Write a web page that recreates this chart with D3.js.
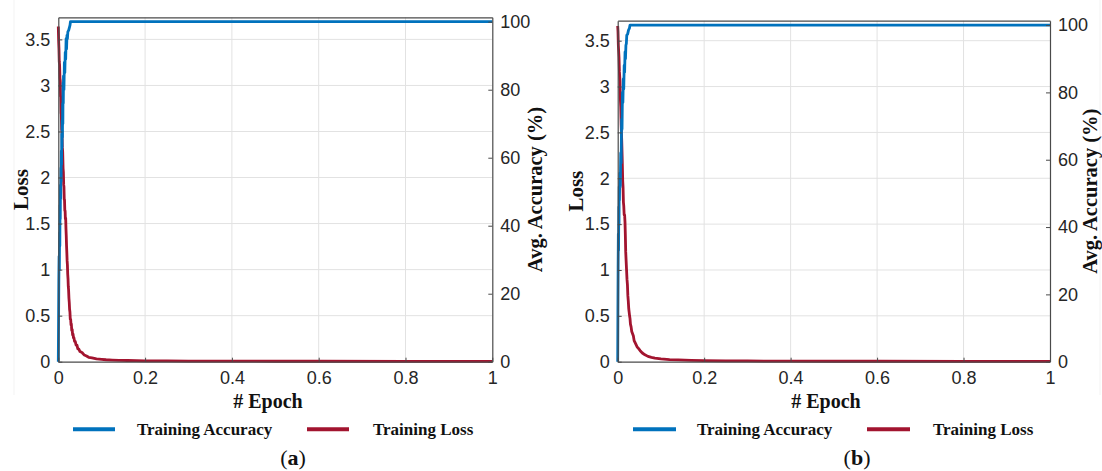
<!DOCTYPE html>
<html>
<head>
<meta charset="utf-8">
<script src="https://cdn.jsdelivr.net/npm/d3@7"></script>
<style>
html,body{margin:0;padding:0;background:#fff;}
svg{display:block;}
</style>
</head>
<body>
<svg id="chart" width="1102" height="471"></svg>
<script>
// ---------------- data ----------------
const epochTicks = [0, 0.2, 0.4, 0.6, 0.8, 1];
const epochTickLabels = ["0", "0.2", "0.4", "0.6", "0.8", "1"];
const lossTicks = [0, 0.5, 1, 1.5, 2, 2.5, 3, 3.5];
const lossTickLabels = ["0", "0.5", "1", "1.5", "2", "2.5", "3", "3.5"];
const accTicks = [0, 20, 40, 60, 80, 100];
const accTickLabels = ["0", "20", "40", "60", "80", "100"];
const seriesNames = ["Training Accuracy", "Training Loss"];
const panelLabels = ["a", "b"];
const xTitle = "# Epoch";
const yLeftTitle = "Loss";
const yRightTitle = "Avg. Accuracy (%)";

// panel (a)  [epoch, accuracy %]
const accA = [[0,0],[0.0006,12],[0.0012,24],[0.0018,31],[0.0024,27],[0.003,38],[0.0035,34],[0.004,46],[0.0045,42],[0.005,52],[0.0055,48],[0.006,57],[0.0065,53],[0.007,62],[0.0075,58],[0.008,67],[0.0085,63],[0.009,71],[0.0095,66],[0.010,76],[0.0105,70],[0.011,82],[0.0115,76],[0.012,84],[0.013,80],[0.014,88],[0.015,85],[0.016,91],[0.017,89],[0.018,95],[0.019,92],[0.020,96],[0.021,95],[0.022,97],[0.024,97.5],[0.026,98.5],[0.027,99],[0.028,100],[1,100]];
// panel (a)  [epoch, loss]
const lossA = [[0,3.64],[0.0008,3.48],[0.0015,3.4],[0.0022,3.26],[0.003,3.22],[0.0038,3.08],[0.0046,3.05],[0.0052,2.88],[0.0058,2.88],[0.0064,2.7],[0.0069,2.69],[0.0077,2.52],[0.0085,2.5],[0.0093,2.33],[0.0101,2.28],[0.011,2.1],[0.0117,2.06],[0.0124,1.92],[0.013,1.9],[0.0137,1.76],[0.0143,1.76],[0.015,1.64],[0.0157,1.64],[0.0163,1.55],[0.017,1.56],[0.0177,1.44],[0.0183,1.37],[0.019,1.26],[0.0197,1.18],[0.0203,1.1],[0.021,1.05],[0.0217,0.95],[0.0224,0.9],[0.023,0.82],[0.0237,0.78],[0.0245,0.69],[0.0253,0.64],[0.026,0.57],[0.0268,0.54],[0.0276,0.46],[0.0285,0.46],[0.0293,0.4],[0.030,0.41],[0.031,0.34],[0.032,0.35],[0.033,0.29],[0.034,0.3],[0.035,0.26],[0.036,0.26],[0.0375,0.22],[0.039,0.22],[0.041,0.18],[0.043,0.18],[0.045,0.14],[0.047,0.14],[0.05,0.11],[0.0546,0.1],[0.06,0.072],[0.065,0.062],[0.07,0.048],[0.0776,0.042],[0.088,0.031],[0.1,0.026],[0.11,0.021],[0.124,0.018],[0.14,0.015],[0.16,0.013],[0.18,0.011],[0.2,0.01],[0.25,0.008],[0.3,0.007],[0.4,0.006],[0.5,0.005],[0.6,0.005],[0.8,0.004],[1,0.004]];

// panel (b)  [epoch, accuracy %]
const accB = [[0,0],[0.0005,15],[0.001,28],[0.0015,38],[0.002,33],[0.0025,46],[0.003,41],[0.0035,52],[0.004,48],[0.005,56],[0.006,52],[0.007,62],[0.008,59],[0.009,72],[0.010,69],[0.011,80],[0.012,77],[0.013,84],[0.014,81],[0.015,88],[0.016,86],[0.017,92],[0.018,90],[0.019,94],[0.020,94.5],[0.021,97],[0.023,97.3],[0.025,98.5],[0.027,99],[0.0285,100],[1,100]];
// panel (b)  [epoch, loss]
const lossB = [[0,3.66],[0.0007,3.6],[0.0015,3.45],[0.003,3.32],[0.004,3.16],[0.0053,3.06],[0.006,2.88],[0.007,2.78],[0.008,2.58],[0.0093,2.41],[0.0105,2.2],[0.0116,1.97],[0.0124,1.9],[0.0132,1.74],[0.014,1.7],[0.015,1.6],[0.016,1.6],[0.0169,1.52],[0.0177,1.38],[0.0185,1.2],[0.0195,1.1],[0.0205,1.0],[0.0215,0.9],[0.0225,0.84],[0.0235,0.72],[0.0245,0.66],[0.0255,0.58],[0.0265,0.54],[0.0275,0.5],[0.0285,0.47],[0.0295,0.41],[0.031,0.38],[0.0325,0.33],[0.034,0.31],[0.0363,0.28],[0.038,0.23],[0.04,0.21],[0.043,0.18],[0.045,0.16],[0.048,0.145],[0.052,0.12],[0.057,0.095],[0.063,0.075],[0.07,0.058],[0.078,0.048],[0.086,0.04],[0.1,0.031],[0.12,0.022],[0.14,0.019],[0.17,0.014],[0.2,0.012],[0.25,0.009],[0.3,0.008],[0.4,0.006],[0.5,0.005],[0.6,0.005],[0.8,0.004],[1,0.004]];

// ---------------- layout / style ----------------
const COLORS = {acc: "#0072BD", loss: "#A2142F", grid: "#e2e2e2", axis: "#4a4a4a", text: "#262626"};
const panels = [
  {acc: accA, loss: lossA, label: panelLabels[0],
   left: 58.3, right: 492.3, top: 17.3, bottom: 361.7, lossMax: 3.74, accMax: 101.3,
   lossTitleX: 21, accTitleX: 535, xTitleX: 268, labelX: 293,
   legend: {l1: [73, 115], t1: 137, l2: [307, 349], t2: 373}},
  {acc: accB, loss: lossB, label: panelLabels[1],
   left: 617.7, right: 1050, top: 20.7, bottom: 361.7, lossMax: 3.718, accMax: 101.3,
   lossTitleX: 576, accTitleX: 1090, xTitleX: 826, labelX: 857,
   legend: {l1: [633, 676], t1: 697, l2: [867, 910], t2: 933}}
];

const svg = d3.select("#chart");

// faint sub-figure edges seen in the reference
[14, 1100].forEach(x => {
  svg.append("line").attr("x1", x).attr("x2", x).attr("y1", 0).attr("y2", 395)
    .attr("stroke", "#f3f3f3").attr("stroke-width", 1);
});

const tickFont = "'Liberation Sans', Arial, sans-serif";
const serif = "'Liberation Serif', 'Times New Roman', serif";

panels.forEach(p => {
  const x = d3.scaleLinear().domain([0, 1]).range([p.left, p.right]);
  const yL = d3.scaleLinear().domain([0, p.lossMax]).range([p.bottom, p.top]);
  const yR = d3.scaleLinear().domain([0, p.accMax]).range([p.bottom, p.top]);
  const g = svg.append("g");

  // grid
  g.append("g").selectAll("line").data(epochTicks.slice(1, -1)).join("line")
    .attr("x1", d => x(d)).attr("x2", d => x(d)).attr("y1", p.top).attr("y2", p.bottom)
    .attr("stroke", COLORS.grid).attr("stroke-width", 1);
  g.append("g").selectAll("line").data(lossTicks.slice(1)).join("line")
    .attr("x1", p.left).attr("x2", p.right).attr("y1", d => yL(d)).attr("y2", d => yL(d))
    .attr("stroke", COLORS.grid).attr("stroke-width", 1);

  // lines
  const lineL = d3.line().x(d => x(d[0])).y(d => yL(d[1]));
  const lineR = d3.line().x(d => x(d[0])).y(d => yR(d[1]));
  g.append("path").datum(p.loss).attr("d", lineL).attr("fill", "none")
    .attr("stroke", COLORS.loss).attr("stroke-width", 2.8).attr("stroke-linejoin", "round");
  g.append("path").datum(p.acc).attr("d", lineR).attr("fill", "none")
    .attr("stroke", COLORS.acc).attr("stroke-width", 2.8).attr("stroke-linejoin", "round");

  // axes (ticks pointing inwards)
  const styleAxis = sel => {
    sel.selectAll(".domain").attr("stroke", COLORS.axis).attr("stroke-width", 1.2);
    sel.selectAll(".tick line").attr("stroke", COLORS.axis).attr("stroke-width", 1);
    sel.selectAll(".tick text").attr("fill", COLORS.text).attr("font-family", tickFont).attr("font-size", 18);
  };
  g.append("g").attr("transform", `translate(0,${p.bottom})`)
    .call(d3.axisBottom(x).tickValues(epochTicks).tickFormat((d, i) => epochTickLabels[i])
      .tickSizeInner(-4).tickSizeOuter(0).tickPadding(10))
    .call(styleAxis);
  g.append("g").attr("transform", `translate(0,${p.top})`)
    .call(d3.axisTop(x).tickValues([]).tickSizeOuter(0))
    .call(styleAxis);
  g.append("g").attr("transform", `translate(${p.left},0)`)
    .call(d3.axisLeft(yL).tickValues(lossTicks).tickFormat((d, i) => lossTickLabels[i])
      .tickSizeInner(-4).tickSizeOuter(0).tickPadding(8))
    .call(styleAxis);
  g.append("g").attr("transform", `translate(${p.right},0)`)
    .call(d3.axisRight(yR).tickValues(accTicks).tickFormat((d, i) => accTickLabels[i])
      .tickSizeInner(-4).tickSizeOuter(0).tickPadding(8))
    .call(styleAxis);

  // titles
  const midY = (p.top + p.bottom) / 2;
  g.append("text").attr("transform", `translate(${p.lossTitleX},${midY}) rotate(-90)`)
    .attr("text-anchor", "middle").attr("dominant-baseline", "central")
    .attr("font-family", serif).attr("font-weight", "bold").attr("font-size", 21)
    .attr("fill", "#111").text(yLeftTitle);
  g.append("text").attr("transform", `translate(${p.accTitleX},${midY}) rotate(-90)`)
    .attr("text-anchor", "middle").attr("dominant-baseline", "central")
    .attr("font-family", serif).attr("font-weight", "bold").attr("font-size", 20.5)
    .attr("fill", "#111").text(yRightTitle);
  g.append("text").attr("x", p.xTitleX).attr("y", 408).attr("text-anchor", "middle")
    .attr("font-family", serif).attr("font-weight", "bold").attr("font-size", 20)
    .attr("fill", "#111").text(xTitle);

  // legend
  const lg = p.legend;
  g.append("line").attr("x1", lg.l1[0]).attr("x2", lg.l1[1]).attr("y1", 429.3).attr("y2", 429.3)
    .attr("stroke", COLORS.acc).attr("stroke-width", 4);
  g.append("line").attr("x1", lg.l2[0]).attr("x2", lg.l2[1]).attr("y1", 429.3).attr("y2", 429.3)
    .attr("stroke", COLORS.loss).attr("stroke-width", 4);
  g.append("text").attr("x", lg.t1).attr("y", 435).attr("font-family", serif)
    .attr("font-weight", "bold").attr("font-size", 17).attr("fill", "#111").text(seriesNames[0]);
  g.append("text").attr("x", lg.t2).attr("y", 435).attr("font-family", serif)
    .attr("font-weight", "bold").attr("font-size", 17).attr("fill", "#111").text(seriesNames[1]);

  // panel label
  const pl = g.append("text").attr("x", p.labelX).attr("y", 465).attr("text-anchor", "middle")
    .attr("font-family", serif).attr("font-size", 22).attr("fill", "#111");
  pl.append("tspan").text("(");
  pl.append("tspan").attr("font-weight", "bold").text(p.label);
  pl.append("tspan").text(")");
});
</script>
</body>
</html>
